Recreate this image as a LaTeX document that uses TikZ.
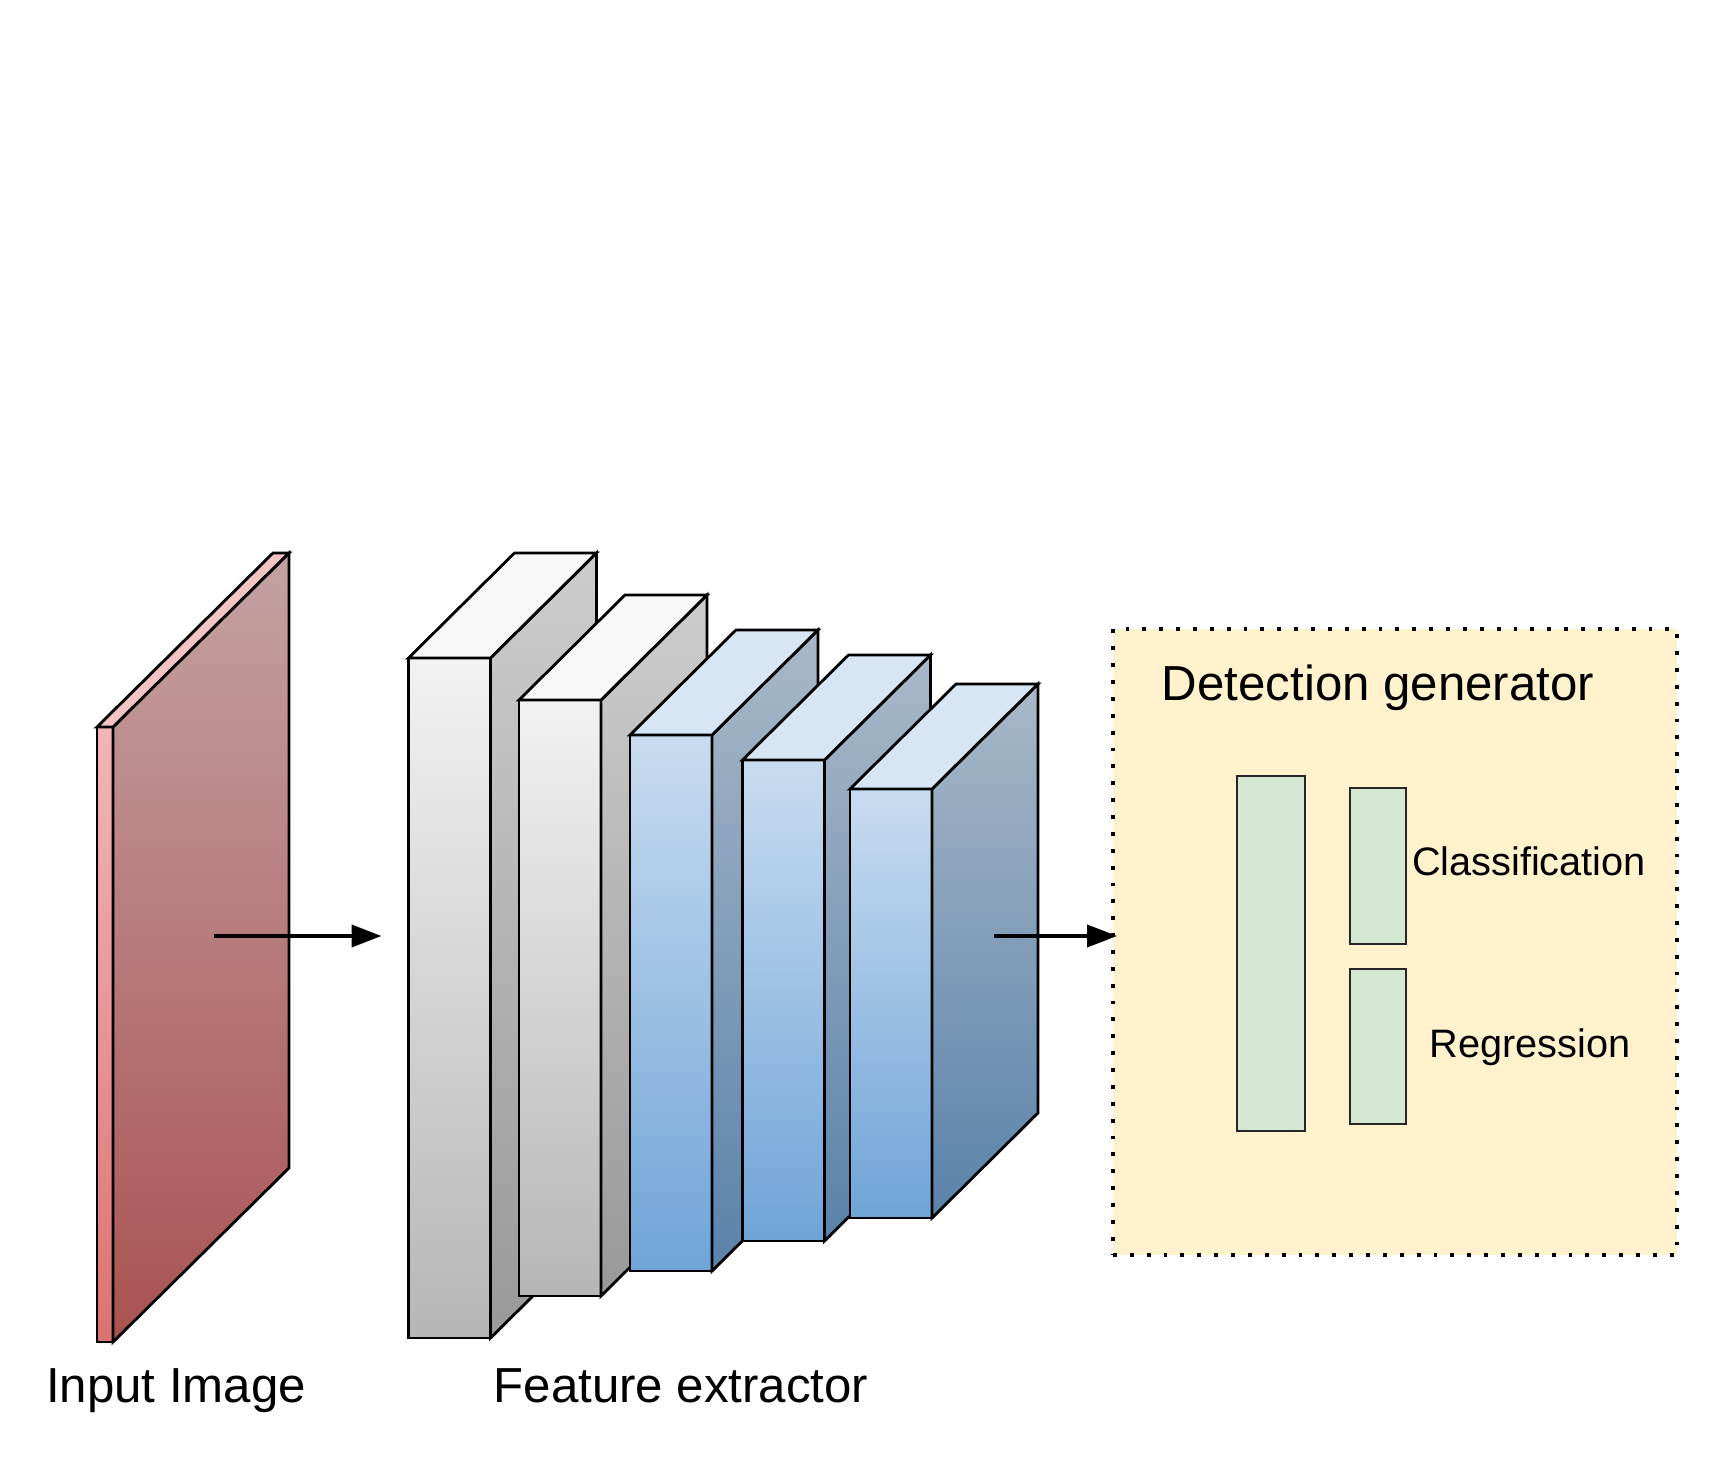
\documentclass[tikz,border=0pt]{standalone}
\usepackage{fontspec}
\setmainfont{Liberation Sans}
\usepackage{xcolor}
\usetikzlibrary{arrows.meta}

\definecolor{imgFrontTop}{HTML}{F2B6B6}
\definecolor{imgFrontBot}{HTML}{DC7272}
\definecolor{imgSideTop}{HTML}{C4A2A2}
\definecolor{imgSideBot}{HTML}{AA5252}
\definecolor{imgTop}{HTML}{F4C4C4}
\definecolor{grayFrontTop}{HTML}{F2F2F2}
\definecolor{grayFrontBot}{HTML}{B6B6B6}
\definecolor{graySideTop}{HTML}{CDCDCD}
\definecolor{graySideBot}{HTML}{999999}
\definecolor{grayTop}{HTML}{F8F8F8}
\definecolor{blueFrontTop}{HTML}{C8DCF0}
\definecolor{blueFrontBot}{HTML}{6FA4D8}
\definecolor{blueSideTop}{HTML}{A8B8C8}
\definecolor{blueSideBot}{HTML}{5A82AA}
\definecolor{blueTop}{HTML}{D6E6F5}
\definecolor{detFill}{HTML}{FFF2CC}
\definecolor{headFill}{HTML}{D5E8D4}

\begin{document}
\begin{tikzpicture}[
			face/.style={rectangle, draw=black, line width=0.8pt, inner sep=0pt, outer sep=0pt},
			imgfront/.style={face, top color=imgFrontTop, bottom color=imgFrontBot, minimum width=0.16cm},
			imgside/.style={draw=black, line width=0.8pt, top color=imgSideTop, bottom color=imgSideBot},
			imgtop/.style={draw=black, line width=0.8pt, fill=imgTop},
			grayfront/.style={face, top color=grayFrontTop, bottom color=grayFrontBot, minimum width=0.82cm},
			grayside/.style={draw=black, line width=0.8pt, top color=graySideTop, bottom color=graySideBot},
			graytop/.style={draw=black, line width=0.8pt, fill=grayTop},
			bluefront/.style={face, top color=blueFrontTop, bottom color=blueFrontBot, minimum width=0.82cm},
			blueside/.style={draw=black, line width=0.8pt, top color=blueSideTop, bottom color=blueSideBot},
			bluetop/.style={draw=black, line width=0.8pt, fill=blueTop},
			detbox/.style={rectangle, fill=detFill, draw=black, line width=1.1pt, dash pattern=on 1.1pt off 3.7pt, minimum width=5.64cm, minimum height=6.26cm},
			head/.style={face, fill=headFill, draw=black!85},
			bigtxt/.style={anchor=base, inner sep=0pt, font=\fontsize{14}{17}\selectfont},
			smalltxt/.style={anchor=base, inner sep=0pt, font=\fontsize{11.3}{13}\selectfont},
			arrow/.style={-{Triangle[length=0.3cm,width=0.22cm]}, line width=1.1pt}
		]

		\useasboundingbox (0,0) rectangle (17.17,14.80);

		% Input image slab
		\node[imgfront, minimum height=6.15cm] (img) at (1.05,4.455) {};
		\draw[imgside] (img.north east) -- ++(1.76,1.74) -- ([shift={(1.76,1.74)}]img.south east) -- (img.south east) -- cycle;
		\draw[imgtop] (img.north west) -- ++(1.76,1.74) -- ([shift={(1.76,1.74)}]img.north east) -- (img.north east) -- cycle;

		% Feature extractor blocks
		\node[grayfront, minimum height=6.80cm] (fe1) at (4.495,4.82) {};
		\draw[grayside] (fe1.north east) -- ++(1.06,1.05) -- ([shift={(1.06,1.05)}]fe1.south east) -- (fe1.south east) -- cycle;
		\draw[graytop] (fe1.north west) -- ++(1.06,1.05) -- ([shift={(1.06,1.05)}]fe1.north east) -- (fe1.north east) -- cycle;

		\node[grayfront, minimum height=5.96cm] (fe2) at (5.60,4.82) {};
		\draw[grayside] (fe2.north east) -- ++(1.06,1.05) -- ([shift={(1.06,1.05)}]fe2.south east) -- (fe2.south east) -- cycle;
		\draw[graytop] (fe2.north west) -- ++(1.06,1.05) -- ([shift={(1.06,1.05)}]fe2.north east) -- (fe2.north east) -- cycle;

		\node[bluefront, minimum height=5.36cm] (fe3) at (6.71,4.77) {};
		\draw[blueside] (fe3.north east) -- ++(1.06,1.05) -- ([shift={(1.06,1.05)}]fe3.south east) -- (fe3.south east) -- cycle;
		\draw[bluetop] (fe3.north west) -- ++(1.06,1.05) -- ([shift={(1.06,1.05)}]fe3.north east) -- (fe3.north east) -- cycle;

		\node[bluefront, minimum height=4.81cm] (fe4) at (7.835,4.795) {};
		\draw[blueside] (fe4.north east) -- ++(1.06,1.05) -- ([shift={(1.06,1.05)}]fe4.south east) -- (fe4.south east) -- cycle;
		\draw[bluetop] (fe4.north west) -- ++(1.06,1.05) -- ([shift={(1.06,1.05)}]fe4.north east) -- (fe4.north east) -- cycle;

		\node[bluefront, minimum height=4.29cm] (fe5) at (8.91,4.765) {};
		\draw[blueside] (fe5.north east) -- ++(1.06,1.05) -- ([shift={(1.06,1.05)}]fe5.south east) -- (fe5.south east) -- cycle;
		\draw[bluetop] (fe5.north west) -- ++(1.06,1.05) -- ([shift={(1.06,1.05)}]fe5.north east) -- (fe5.north east) -- cycle;

		% Detection generator
		\node[detbox] (det) at (13.95,5.38) {};
		\node[bigtxt] (dettitle) at (13.78,7.79) {Detection generator};
		\node[head, minimum width=0.68cm, minimum height=3.55cm] (shared) at (12.71,5.265) {};
		\node[head, minimum width=0.56cm, minimum height=1.56cm] (cls) at (13.78,6.14) {};
		\node[head, minimum width=0.56cm, minimum height=1.55cm] (reg) at (13.78,4.335) {};
		\node[smalltxt] (clstxt) at (15.29,6.04) {Classification};
		\node[smalltxt] (regtxt) at (15.30,4.23) {Regression};

		% Captions
		\node[bigtxt] (imgtxt) at (1.76,0.78) {Input Image};
		\node[bigtxt] (fetxt) at (6.81,0.78) {Feature extractor};

		% Arrows
		\coordinate (img-out) at (2.14,5.44);
		\coordinate (fe-out) at (9.94,5.44);
		\draw[arrow, shorten >=0.27cm] (img-out) -- (img-out -| fe1.west);
		\draw[arrow, shorten >=-0.06cm] (fe-out) -- (fe-out -| det.west);

	\end{tikzpicture}
\end{document}
